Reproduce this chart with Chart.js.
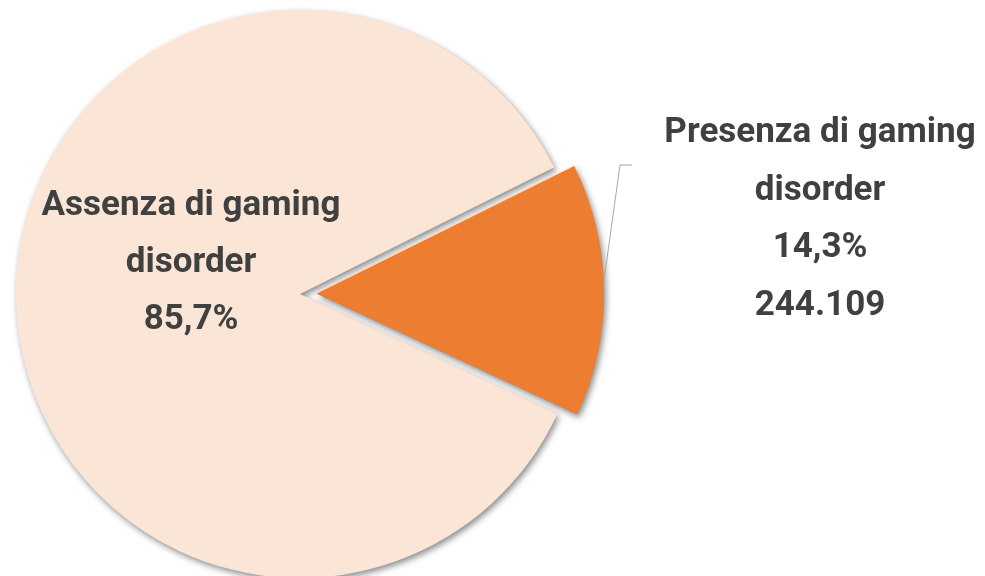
<!DOCTYPE html>
<html>
<head>
<meta charset="utf-8">
<script src="https://cdn.jsdelivr.net/npm/chart.js@4.4.1/dist/chart.umd.min.js"></script>
<style>
  html, body { margin: 0; padding: 0; background: #fff; }
  #wrap { width: 985px; height: 576px; }
</style>
</head>
<body>
<div id="wrap"><canvas id="pieChart" width="985" height="576"></canvas></div>
<script>
// values
const categories = ["Assenza di gaming disorder", "Presenza di gaming disorder"];
const percentages = [85.7, 14.3];
const percentLabels = ["85,7%", "14,3%"];
const countLabels = ["", "244.109"];
const sliceColors = ["#FBE5D7", "#ED7D31"];
const explode = [0, 66];

const textColor = "#404040";
const labelFont = "bold 35px Roboto, 'Open Sans', sans-serif";

// soft drop shadow under the slices, like the office chart
const shadowPlugin = {
  id: "shadow",
  beforeDatasetsDraw(chart) {
    const ctx = chart.ctx;
    ctx.save();
    ctx.shadowColor = "rgba(0,0,0,0.45)";
    ctx.shadowBlur = 6;
    ctx.shadowOffsetX = 2;
    ctx.shadowOffsetY = 3;
  },
  afterDatasetsDraw(chart) {
    chart.ctx.restore();
  },
};

function sliceShift(arc) {
  // same shift Chart.js applies for the offset option
  const offset = (arc.options.offset || 0) / 4;
  const circ = arc.endAngle - arc.startAngle;
  const fix = 1 - Math.sin(Math.min(Math.PI, circ));
  return offset + offset * fix;
}

const labelPlugin = {
  id: "sliceLabels",
  afterDatasetsDraw(chart) {
    const ctx = chart.ctx;
    const arcs = chart.getDatasetMeta(0).data;
    ctx.save();
    ctx.font = labelFont;
    ctx.fillStyle = textColor;
    ctx.textAlign = "center";
    ctx.textBaseline = "alphabetic";
    const lh = 57;

    // inside label of the big slice
    const a0 = arcs[0];
    const lx = a0.x - 109;
    const ly = a0.y - 79;
    ["Assenza di gaming", "disorder", percentLabels[0]].forEach((t, i) => {
      ctx.fillText(t, lx, ly + i * lh);
    });

    // outside label of the exploded slice with leader line
    const a1 = arcs[1];
    const mid = (a1.startAngle + a1.endAngle) / 2;
    const s = sliceShift(a1);
    const ang = mid - 0.03;
    const px = a1.x + Math.cos(mid) * s + Math.cos(ang) * a1.outerRadius;
    const py = a1.y + Math.sin(mid) * s + Math.sin(ang) * a1.outerRadius;
    const ex = a1.x + 332;
    const ey = a1.y - 129;
    ctx.strokeStyle = "#A6A6A6";
    ctx.lineWidth = 1;
    ctx.beginPath();
    ctx.moveTo(px, py);
    ctx.lineTo(ex - 12, ey);
    ctx.lineTo(ex, ey);
    ctx.stroke();

    const rx = a1.x + 520;
    const ry = a1.y - 152;
    ["Presenza di gaming", "disorder", percentLabels[1], countLabels[1]].forEach((t, i) => {
      ctx.fillText(t, rx, ry + i * 57.5);
    });
    ctx.restore();
  },
};

new Chart(document.getElementById("pieChart"), {
  type: "pie",
  data: {
    labels: categories,
    datasets: [
      {
        data: percentages,
        backgroundColor: sliceColors,
        borderWidth: 0,
        offset: explode,
        hoverOffset: 0,
      },
    ],
  },
  options: {
    responsive: false,
    devicePixelRatio: 1,
    animation: false,
    events: [],
    rotation: 115,
    radius: 284,
    layout: { padding: { left: 0, right: 385, top: 12, bottom: 0 } },
    plugins: {
      legend: { display: false },
      tooltip: { enabled: false },
    },
  },
  plugins: [shadowPlugin, labelPlugin],
});
</script>
</body>
</html>
